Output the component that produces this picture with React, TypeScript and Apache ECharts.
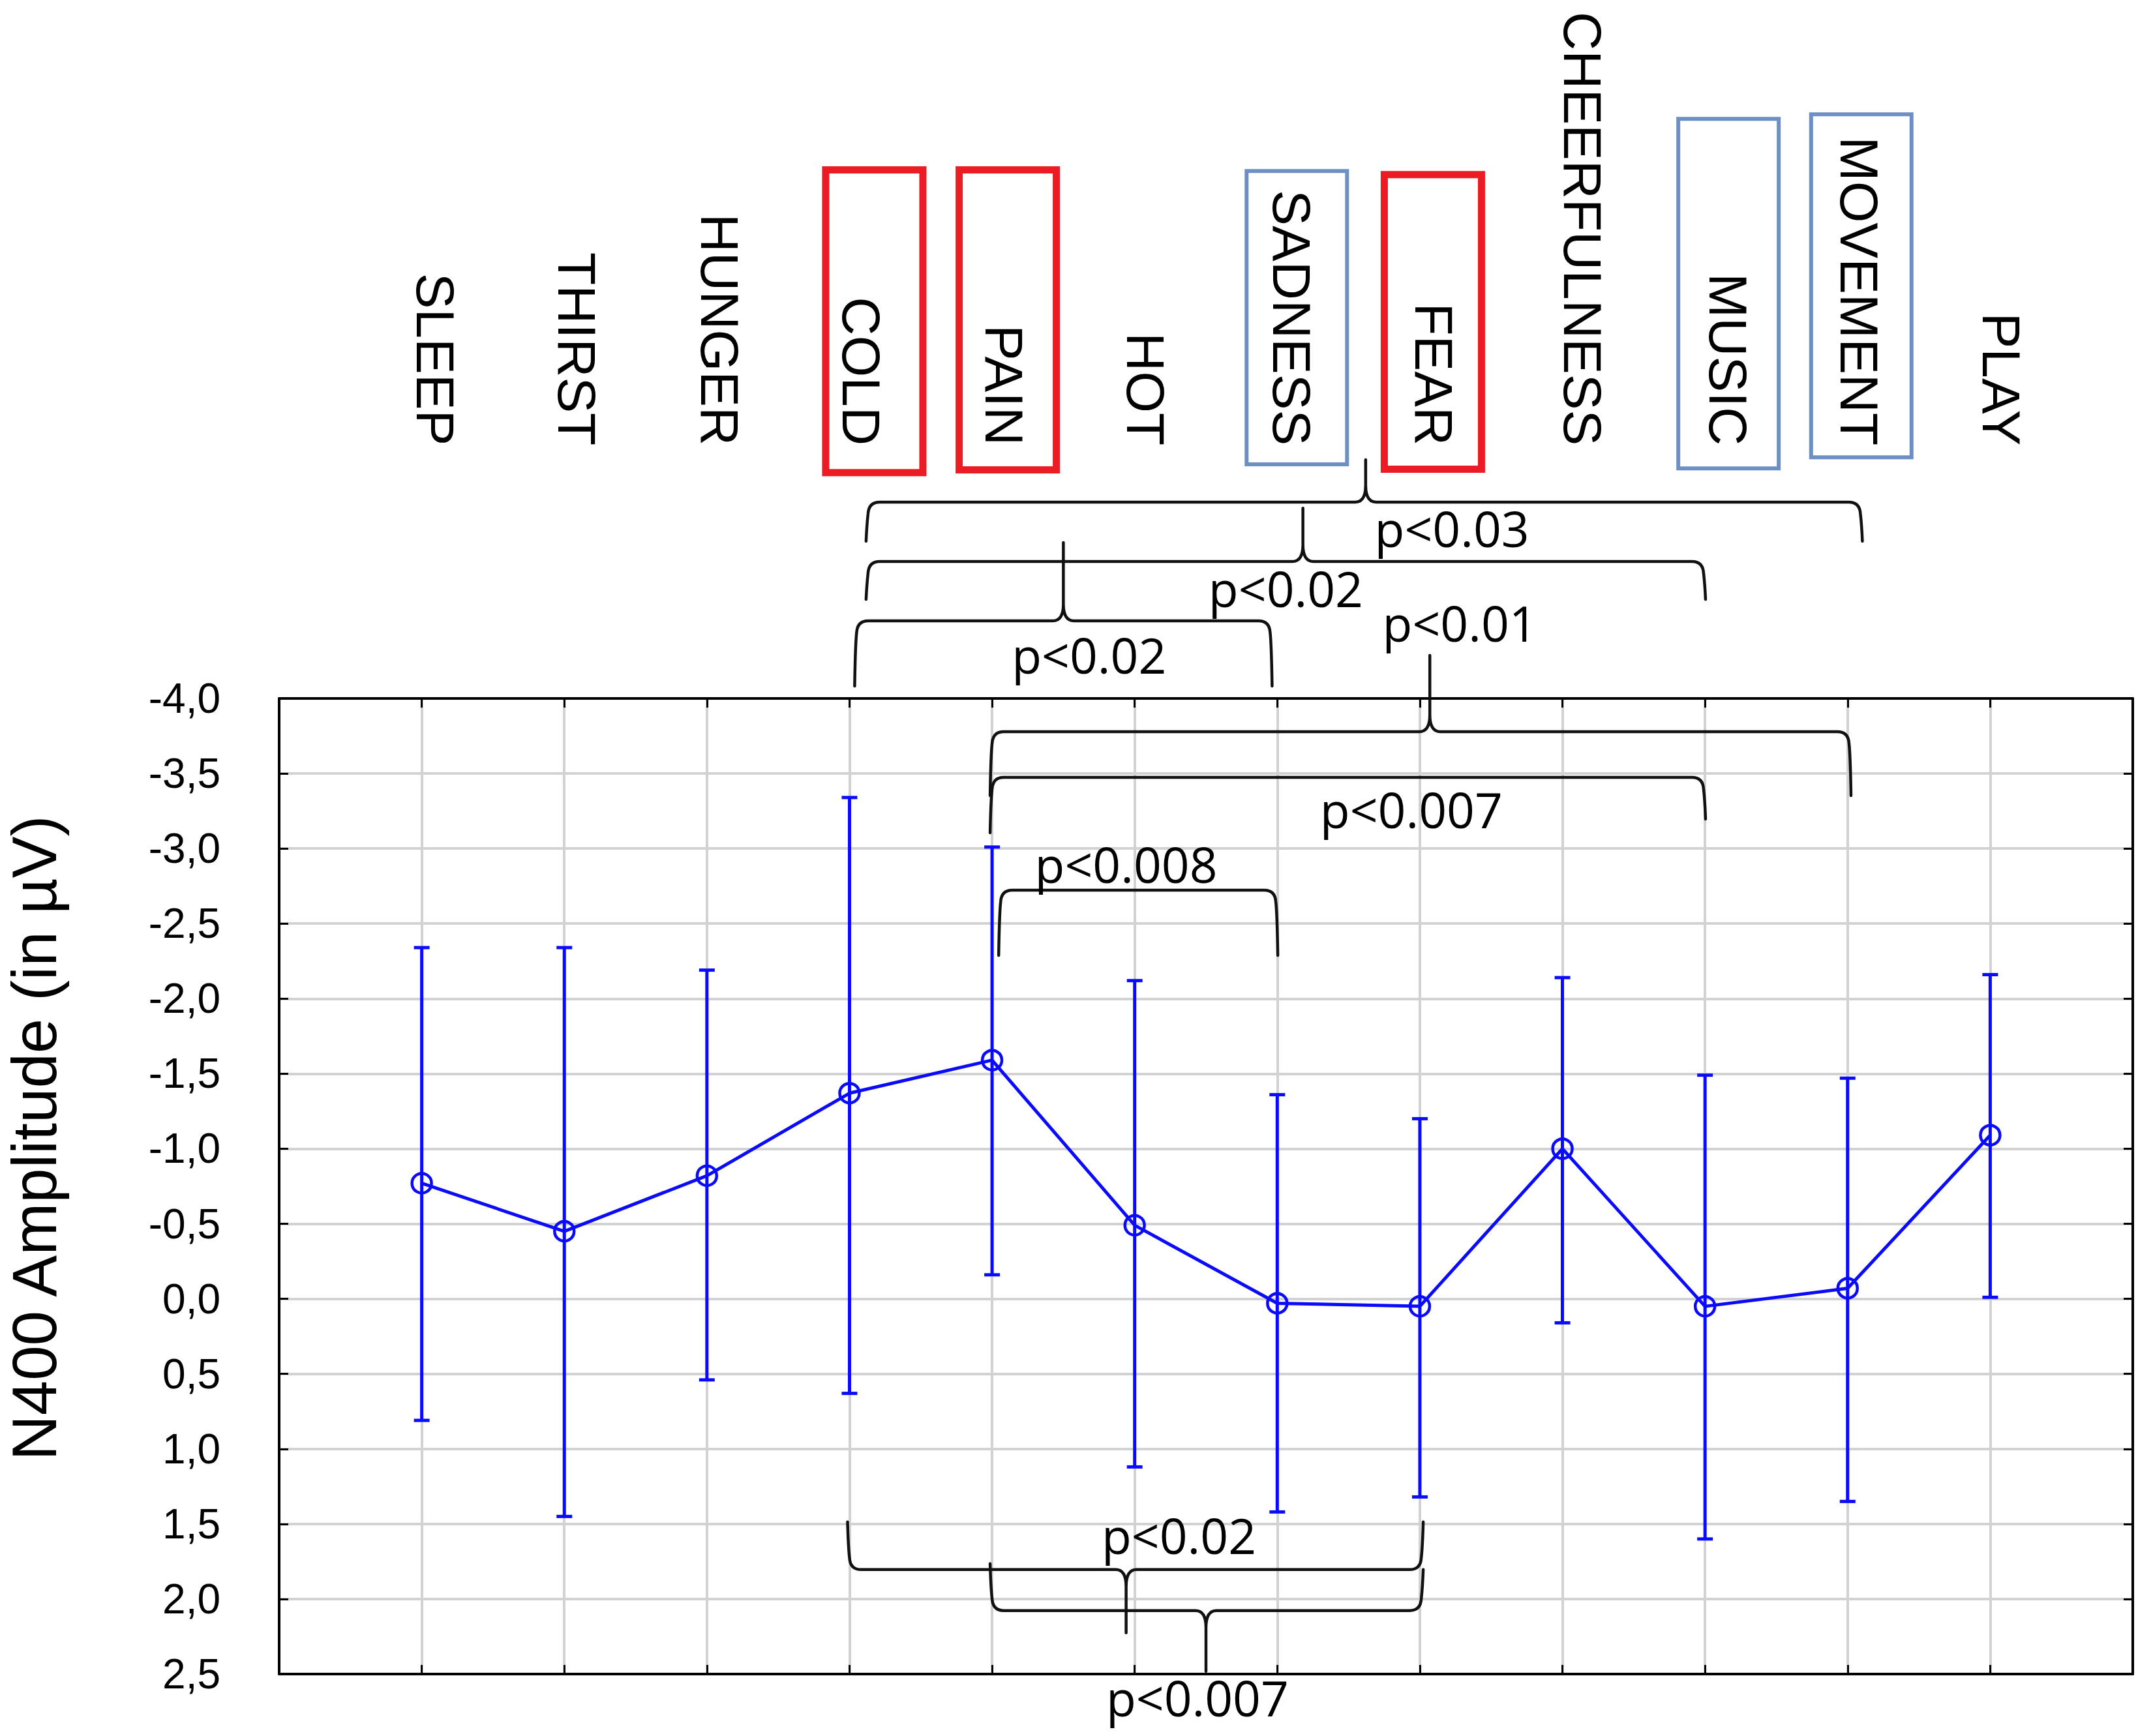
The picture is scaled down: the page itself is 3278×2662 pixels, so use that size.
import React, { useEffect, useRef } from 'react';
import * as echarts from 'echarts';

// ---------------- data ----------------
const categories = ['SLEEP', 'THIRST', 'HUNGER', 'COLD', 'PAIN', 'HOT', 'SADNESS', 'FEAR', 'CHEERFULNESS', 'MUSIC', 'MOVEMENT', 'PLAY'];
const means = [-0.77, -0.45, -0.82, -1.37, -1.59, -0.49, 0.03, 0.05, -1.0, 0.05, -0.07, -1.09];
const barTop = [-2.34, -2.34, -2.19, -3.34, -3.01, -2.12, -1.36, -1.2, -2.14, -1.49, -1.47, -2.16];
const barBottom = [0.81, 1.45, 0.54, 0.63, -0.16, 1.12, 1.42, 1.32, 0.16, 1.6, 1.35, -0.01];

const yMin = -4;
const yMax = 2.5;
const yStep = 0.5;

const redBoxed = ['COLD', 'PAIN', 'FEAR'];
const blueBoxed = ['SADNESS', 'MUSIC', 'MOVEMENT'];

const compFrom = ['COLD', 'COLD', 'COLD', 'PAIN', 'PAIN', 'PAIN', 'COLD', 'PAIN'];
const compTo = ['MOVEMENT', 'MUSIC', 'SADNESS', 'MOVEMENT', 'MUSIC', 'SADNESS', 'FEAR', 'FEAR'];
const compP = ['p<0.03', 'p<0.02', 'p<0.02', 'p<0.01', 'p<0.007', 'p<0.008', 'p<0.02', 'p<0.007'];

// ---------------- layout (annotation placement, in axis units) ----------------
const BRACKET_LAYOUT = [
  { dx1: 0.13, dx2: 0.09, line: -5.308, end1: -5.047, end2: -5.047, peakX: 7.62, peakY: -5.59, labelX: 8.225, labelY: -5.134 },
  { dx1: 0.13, dx2: -0.01, line: -4.912, end1: -4.66, end2: -4.66, peakX: 7.18, peakY: -5.268, labelX: 7.06, labelY: -4.734 },
  { dx1: 0.05, dx2: -0.05, line: -4.517, end1: -4.083, end2: -4.083, peakX: 5.5, peakY: -5.038, labelX: 5.68, labelY: -4.291 },
  { dx1: 0.0, dx2: 0.01, line: -3.778, end1: -3.353, end2: -3.353, peakX: 8.07, peakY: -4.287, labelX: 8.28, labelY: -4.504 },
  { dx1: 0.0, dx2: -0.01, line: -3.474, end1: -3.105, end2: -3.196, peakX: null, peakY: null, labelX: 7.94, labelY: -3.262 },
  { dx1: 0.06, dx2: -0.01, line: -2.723, end1: -2.288, end2: -2.288, peakX: null, peakY: null, labelX: 5.94, labelY: -2.897 },
  { dx1: 0.0, dx2: 0.01, line: 1.804, end1: 1.487, end2: 1.487, peakX: 5.94, peakY: 2.225, labelX: 6.31, labelY: 1.573 },
  { dx1: 0.0, dx2: 0.01, line: 2.077, end1: 1.765, end2: 1.804, peakX: 6.5, peakY: 2.481, labelX: 6.44, labelY: 2.655 },
];

const LABEL_END = -5.685;
const LABEL_DX: Record<string, number> = {
  SLEEP: 21, THIRST: 19, HUNGER: 20, COLD: 18, PAIN: 18, HOT: 17, SADNESS: 22, FEAR: 22,
  CHEERFULNESS: 31, MUSIC: 35, MOVEMENT: 18, PLAY: 17,
};
const BOX_LAYOUT: Record<string, { dx: number; top: number; bottom: number }> = {
  COLD: { dx: 38, top: -7.545, bottom: -5.481 },
  PAIN: { dx: 24, top: -7.545, bottom: -5.499 },
  SADNESS: { dx: 30, top: -7.527, bottom: -5.547 },
  FEAR: { dx: 20, top: -7.514, bottom: -5.503 },
  MUSIC: { dx: 36, top: -7.875, bottom: -5.52 },
  MOVEMENT: { dx: 21, top: -7.905, bottom: -5.594 },
};

const BLUE = '#0a0aff';
const RED = '#ec1c24';
const STEEL = '#6d8fc3';
const GRIDGRAY = '#d2d2d2';

const catPos = (name: string) => categories.indexOf(name) + 1;

function bracketPath(api: any, i: number) {
  const L = BRACKET_LAYOUT[i];
  const from = catPos(compFrom[i]);
  const to = catPos(compTo[i]);
  const X1 = api.coord([from + L.dx1, L.line])[0];
  const X2 = api.coord([to + L.dx2, L.line])[0];
  const Y0 = api.coord([from, L.line])[1];
  const E1 = api.coord([from, L.end1])[1];
  const E2 = api.coord([from, L.end2])[1];
  const s = E1 > Y0 ? 1 : -1;
  const r = 18;
  let d = `M ${X1 - 3} ${E1} Q ${X1 - 2} ${Y0 + s * r * 2} ${X1} ${Y0 + s * r} Q ${X1 + 1} ${Y0} ${X1 + r} ${Y0} `;
  if (L.peakX != null) {
    const XP = api.coord([L.peakX, L.line])[0];
    const YP = api.coord([L.peakX, L.peakY])[1];
    const w = 16;
    const h = 26;
    d += `L ${XP - w} ${Y0} Q ${XP} ${Y0} ${XP} ${Y0 - s * h} L ${XP} ${YP} M ${XP} ${Y0 - s * h} Q ${XP} ${Y0} ${XP + w} ${Y0} `;
  }
  d += `L ${X2 - r} ${Y0} Q ${X2 - 1} ${Y0} ${X2} ${Y0 + s * r} Q ${X2 + 2} ${Y0 + s * r * 2} ${X2 + 3} ${E2}`;
  return d;
}

const axisLineStyle = { color: '#000', width: 4 };
const tickStyle = { show: true, inside: true, length: 14, lineStyle: { color: '#000', width: 3 } };

function buildOption() {
  const lineData = means.map((m, i) => [i + 1, m]);
  const errData = categories.map((_, i) => [i + 1, barTop[i], barBottom[i]]);
  const labelData = categories.map((_, i) => [i + 1, LABEL_END]);
  const boxed = [...redBoxed, ...blueBoxed];
  const boxData = boxed.map((c) => [catPos(c), BOX_LAYOUT[c].top, BOX_LAYOUT[c].bottom]);
  const bracketData = compFrom.map((f, i) => [catPos(f), catPos(compTo[i]), 0]);

  return {
    animation: false,
    backgroundColor: '#ffffff',
    grid: { left: 428, top: 1071, width: 2842, height: 1496, show: false },
    xAxis: [
      {
        type: 'value', min: 0, max: 13, interval: 1, position: 'bottom',
        axisLine: { show: true, onZero: false, lineStyle: axisLineStyle },
        axisTick: tickStyle,
        axisLabel: { show: false },
        splitLine: { show: true, lineStyle: { color: GRIDGRAY, width: 4 } },
      },
      {
        type: 'value', min: 0, max: 13, interval: 1, position: 'top',
        axisLine: { show: true, onZero: false, lineStyle: axisLineStyle },
        axisTick: tickStyle,
        axisLabel: { show: false },
        splitLine: { show: false },
      },
    ],
    yAxis: [
      {
        type: 'value', inverse: true, min: yMin, max: yMax, interval: yStep, position: 'left',
        axisLine: { show: true, onZero: false, lineStyle: axisLineStyle },
        axisTick: tickStyle,
        axisLabel: {
          show: true, margin: 90, fontSize: 64, fontFamily: 'Liberation Sans', color: '#000',
          formatter: (v: number) => v.toFixed(1).replace('.', ','),
        },
        splitLine: { show: true, lineStyle: { color: GRIDGRAY, width: 4 } },
      },
      {
        type: 'value', inverse: true, min: yMin, max: yMax, interval: yStep, position: 'right',
        axisLine: { show: true, onZero: false, lineStyle: axisLineStyle },
        axisTick: tickStyle,
        axisLabel: { show: false },
        splitLine: { show: false },
      },
    ],
    graphic: [
      {
        type: 'text', x: 52, y: 1745, rotation: Math.PI / 2,
        style: {
          text: 'N400 Amplitude (in µV)', fontSize: 96, fontFamily: 'Liberation Sans', fill: '#000',
          textAlign: 'center', textVerticalAlign: 'middle', align: 'center', verticalAlign: 'middle',
        },
      },
    ],
    series: [
      {
        type: 'custom', name: 'errorbars', xAxisIndex: 0, yAxisIndex: 0,
        data: errData, encode: { x: 0, y: [1, 2] }, z: 3,
        renderItem: (params: any, api: any) => {
          const x = api.value(0);
          const t = api.coord([x, api.value(1)]);
          const b = api.coord([x, api.value(2)]);
          const cw = 12;
          const style = { stroke: BLUE, lineWidth: 5, fill: null };
          return {
            type: 'group',
            children: [
              { type: 'line', shape: { x1: t[0], y1: t[1], x2: b[0], y2: b[1] }, style },
              { type: 'line', shape: { x1: t[0] - cw, y1: t[1], x2: t[0] + cw, y2: t[1] }, style },
              { type: 'line', shape: { x1: b[0] - cw, y1: b[1], x2: b[0] + cw, y2: b[1] }, style },
            ],
          };
        },
      },
      {
        type: 'line', name: 'N400', xAxisIndex: 0, yAxisIndex: 0, data: lineData, z: 4,
        symbol: 'circle', symbolSize: 30,
        itemStyle: { color: 'rgba(0,0,0,0)', borderColor: BLUE, borderWidth: 4.5 },
        lineStyle: { color: BLUE, width: 5 },
      },
      {
        type: 'custom', name: 'categoryLabels', xAxisIndex: 0, yAxisIndex: 0,
        data: labelData, encode: { x: 0, y: 1 }, z: 5,
        renderItem: (params: any, api: any) => {
          const name = categories[params.dataIndex];
          const p = api.coord([api.value(0), api.value(1)]);
          return {
            type: 'text', x: p[0] + LABEL_DX[name], y: p[1], rotation: -Math.PI / 2,
            style: {
              text: name, fontSize: 82, fontFamily: 'Liberation Sans', fill: '#000',
              textAlign: 'right', textVerticalAlign: 'middle', align: 'right', verticalAlign: 'middle',
            },
          };
        },
      },
      {
        type: 'custom', name: 'boxes', xAxisIndex: 0, yAxisIndex: 0,
        data: boxData, encode: { x: 0, y: [1, 2] }, z: 5,
        renderItem: (params: any, api: any) => {
          const name = boxed[params.dataIndex];
          const isRed = redBoxed.indexOf(name) >= 0;
          const lw = isRed ? 11 : 6;
          const t = api.coord([api.value(0), api.value(1)]);
          const b = api.coord([api.value(0), api.value(2)]);
          const cx = t[0] + BOX_LAYOUT[name].dx;
          const w = 160;
          return {
            type: 'rect',
            shape: { x: cx - w / 2 + lw / 2, y: t[1] + lw / 2, width: w - lw, height: b[1] - t[1] - lw },
            style: { fill: null, stroke: isRed ? RED : STEEL, lineWidth: lw },
          };
        },
      },
      {
        type: 'custom', name: 'brackets', xAxisIndex: 0, yAxisIndex: 0,
        data: bracketData, encode: { x: [0, 1], y: 2 }, z: 6,
        renderItem: (params: any, api: any) => {
          const i = params.dataIndex;
          const L = BRACKET_LAYOUT[i];
          const lp = api.coord([L.labelX, L.labelY]);
          return {
            type: 'group',
            children: [
              {
                type: 'path',
                shape: { pathData: bracketPath(api, i) },
                style: { fill: null, stroke: '#111', lineWidth: 4.5, lineJoin: 'round', lineCap: 'round' },
              },
              {
                type: 'text', x: lp[0], y: lp[1],
                style: {
                  text: compP[i], fontSize: 75, lineHeight: 78, fontFamily: 'Open Sans', fill: '#000',
                  textAlign: 'center', textVerticalAlign: 'middle', align: 'center', verticalAlign: 'middle',
                },
              },
            ],
          };
        },
      },
    ],
  };
}

export default function App() {
  const ref = useRef<HTMLDivElement>(null);
  useEffect(() => {
    if (!ref.current) return;
    const chart = echarts.init(ref.current, null, { renderer: 'svg', width: 3278, height: 2662 });
    chart.setOption(buildOption() as any);
    return () => chart.dispose();
  }, []);
  return (
    <div
      ref={ref}
      style={{ position: 'absolute', left: 0, top: 0, width: 3278, height: 2662, background: '#fff' }}
    />
  );
}
